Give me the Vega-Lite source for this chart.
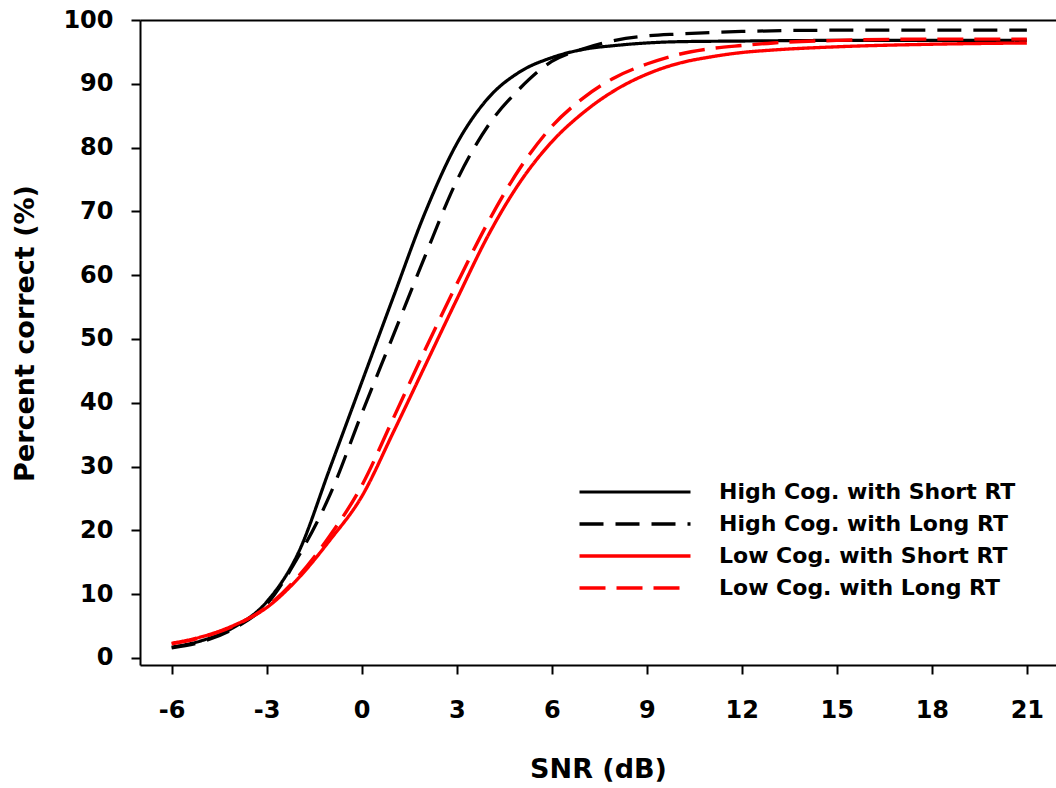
{
  "$schema": "https://vega.github.io/schema/vega-lite/v6.json",
  "width": 916,
  "height": 645,
  "autosize": {"type": "none"},
  "padding": {"left": 140, "top": 20, "right": 0, "bottom": 123},
  "background": "white",
  "config": {
    "view": {"stroke": null},
    "font": "DejaVu Sans",
    "axis": {
      "grid": false,
      "labelFont": "DejaVu Sans",
      "labelFontSize": 24,
      "labelFontWeight": "bold",
      "labelColor": "#000000",
      "tickColor": "#000000",
      "tickWidth": 2,
      "tickSize": 9,
      "domainColor": "#000000",
      "domainWidth": 2,
      "titleFont": "DejaVu Sans",
      "titleFontSize": 27,
      "titleFontWeight": "bold",
      "titleColor": "#000000"
    },
    "legend": {
      "labelFont": "DejaVu Sans",
      "labelFontSize": 22,
      "labelFontWeight": "bold",
      "labelColor": "#000000",
      "labelLimit": 500,
      "padding": 0
    }
  },
  "data": {
    "values": [
      {"group": "High Cog. with Short RT", "snr": -6, "pc": 1.7},
      {"group": "High Cog. with Short RT", "snr": -5, "pc": 2.8},
      {"group": "High Cog. with Short RT", "snr": -4, "pc": 4.9},
      {"group": "High Cog. with Short RT", "snr": -3, "pc": 8.8},
      {"group": "High Cog. with Short RT", "snr": -2, "pc": 16.5},
      {"group": "High Cog. with Short RT", "snr": -1, "pc": 29.8},
      {"group": "High Cog. with Short RT", "snr": 0, "pc": 43.2},
      {"group": "High Cog. with Short RT", "snr": 1, "pc": 56.6},
      {"group": "High Cog. with Short RT", "snr": 2, "pc": 69.8},
      {"group": "High Cog. with Short RT", "snr": 3, "pc": 80.6},
      {"group": "High Cog. with Short RT", "snr": 4, "pc": 87.8},
      {"group": "High Cog. with Short RT", "snr": 5, "pc": 91.9},
      {"group": "High Cog. with Short RT", "snr": 6, "pc": 94.1},
      {"group": "High Cog. with Short RT", "snr": 7, "pc": 95.4},
      {"group": "High Cog. with Short RT", "snr": 8, "pc": 96.0},
      {"group": "High Cog. with Short RT", "snr": 9, "pc": 96.4},
      {"group": "High Cog. with Short RT", "snr": 10, "pc": 96.6},
      {"group": "High Cog. with Short RT", "snr": 12, "pc": 96.7},
      {"group": "High Cog. with Short RT", "snr": 15, "pc": 96.8},
      {"group": "High Cog. with Short RT", "snr": 18, "pc": 96.8},
      {"group": "High Cog. with Short RT", "snr": 21, "pc": 96.8},
      {"group": "High Cog. with Long RT", "snr": -6, "pc": 1.6},
      {"group": "High Cog. with Long RT", "snr": -5, "pc": 2.6},
      {"group": "High Cog. with Long RT", "snr": -4, "pc": 4.7},
      {"group": "High Cog. with Long RT", "snr": -3, "pc": 8.4},
      {"group": "High Cog. with Long RT", "snr": -2, "pc": 15.9},
      {"group": "High Cog. with Long RT", "snr": -1, "pc": 25.6},
      {"group": "High Cog. with Long RT", "snr": 0, "pc": 38.3},
      {"group": "High Cog. with Long RT", "snr": 1, "pc": 50.6},
      {"group": "High Cog. with Long RT", "snr": 2, "pc": 63.0},
      {"group": "High Cog. with Long RT", "snr": 3, "pc": 74.8},
      {"group": "High Cog. with Long RT", "snr": 4, "pc": 83.5},
      {"group": "High Cog. with Long RT", "snr": 5, "pc": 89.3},
      {"group": "High Cog. with Long RT", "snr": 6, "pc": 93.5},
      {"group": "High Cog. with Long RT", "snr": 7, "pc": 95.5},
      {"group": "High Cog. with Long RT", "snr": 8, "pc": 96.8},
      {"group": "High Cog. with Long RT", "snr": 9, "pc": 97.5},
      {"group": "High Cog. with Long RT", "snr": 10, "pc": 97.8},
      {"group": "High Cog. with Long RT", "snr": 12, "pc": 98.2},
      {"group": "High Cog. with Long RT", "snr": 15, "pc": 98.4},
      {"group": "High Cog. with Long RT", "snr": 18, "pc": 98.4},
      {"group": "High Cog. with Long RT", "snr": 21, "pc": 98.4},
      {"group": "Low Cog. with Short RT", "snr": -6, "pc": 2.3},
      {"group": "Low Cog. with Short RT", "snr": -5, "pc": 3.4},
      {"group": "Low Cog. with Short RT", "snr": -4, "pc": 5.2},
      {"group": "Low Cog. with Short RT", "snr": -3, "pc": 7.9},
      {"group": "Low Cog. with Short RT", "snr": -2, "pc": 12.5},
      {"group": "Low Cog. with Short RT", "snr": -1, "pc": 18.5},
      {"group": "Low Cog. with Short RT", "snr": 0, "pc": 25.3},
      {"group": "Low Cog. with Short RT", "snr": 1, "pc": 35.4},
      {"group": "Low Cog. with Short RT", "snr": 2, "pc": 45.8},
      {"group": "Low Cog. with Short RT", "snr": 3, "pc": 56.2},
      {"group": "Low Cog. with Short RT", "snr": 4, "pc": 66.3},
      {"group": "Low Cog. with Short RT", "snr": 5, "pc": 74.6},
      {"group": "Low Cog. with Short RT", "snr": 6, "pc": 80.9},
      {"group": "Low Cog. with Short RT", "snr": 7, "pc": 85.5},
      {"group": "Low Cog. with Short RT", "snr": 8, "pc": 89.0},
      {"group": "Low Cog. with Short RT", "snr": 9, "pc": 91.5},
      {"group": "Low Cog. with Short RT", "snr": 10, "pc": 93.2},
      {"group": "Low Cog. with Short RT", "snr": 11, "pc": 94.2},
      {"group": "Low Cog. with Short RT", "snr": 12, "pc": 94.9},
      {"group": "Low Cog. with Short RT", "snr": 13, "pc": 95.3},
      {"group": "Low Cog. with Short RT", "snr": 15, "pc": 95.8},
      {"group": "Low Cog. with Short RT", "snr": 18, "pc": 96.2},
      {"group": "Low Cog. with Short RT", "snr": 21, "pc": 96.4},
      {"group": "Low Cog. with Long RT", "snr": -6, "pc": 2.2},
      {"group": "Low Cog. with Long RT", "snr": -5, "pc": 3.3},
      {"group": "Low Cog. with Long RT", "snr": -4, "pc": 5.1},
      {"group": "Low Cog. with Long RT", "snr": -3, "pc": 8.0},
      {"group": "Low Cog. with Long RT", "snr": -2, "pc": 12.8},
      {"group": "Low Cog. with Long RT", "snr": -1, "pc": 19.2},
      {"group": "Low Cog. with Long RT", "snr": 0, "pc": 27.0},
      {"group": "Low Cog. with Long RT", "snr": 1, "pc": 37.6},
      {"group": "Low Cog. with Long RT", "snr": 2, "pc": 48.3},
      {"group": "Low Cog. with Long RT", "snr": 3, "pc": 58.6},
      {"group": "Low Cog. with Long RT", "snr": 4, "pc": 68.4},
      {"group": "Low Cog. with Long RT", "snr": 5, "pc": 76.8},
      {"group": "Low Cog. with Long RT", "snr": 6, "pc": 83.3},
      {"group": "Low Cog. with Long RT", "snr": 7, "pc": 87.8},
      {"group": "Low Cog. with Long RT", "snr": 8, "pc": 91.0},
      {"group": "Low Cog. with Long RT", "snr": 9, "pc": 93.1},
      {"group": "Low Cog. with Long RT", "snr": 10, "pc": 94.6},
      {"group": "Low Cog. with Long RT", "snr": 11, "pc": 95.5},
      {"group": "Low Cog. with Long RT", "snr": 12, "pc": 96.0},
      {"group": "Low Cog. with Long RT", "snr": 13, "pc": 96.4},
      {"group": "Low Cog. with Long RT", "snr": 15, "pc": 96.8},
      {"group": "Low Cog. with Long RT", "snr": 18, "pc": 97.0},
      {"group": "Low Cog. with Long RT", "snr": 21, "pc": 97.0}
    ]
  },
  "layer": [
    {
      "mark": {"type": "line", "interpolate": "monotone"},
      "encoding": {
        "x": {
          "field": "snr",
          "type": "quantitative",
          "scale": {"domain": [-7, 21.92], "nice": false, "zero": false},
          "axis": {
            "orient": "bottom",
            "values": [-6, -3, 0, 3, 6, 9, 12, 15, 18, 21],
            "labelExpr": "'' + datum.value",
            "title": "SNR (dB)",
            "labelBaseline": "alphabetic",
            "labelPadding": 43,
            "titleBaseline": "alphabetic",
            "titleY": 112
          }
        },
        "y": {
          "field": "pc",
          "type": "quantitative",
          "scale": {"domain": [-1.1, 100], "nice": false, "zero": false},
          "axis": {
            "values": [0, 10, 20, 30, 40, 50, 60, 70, 80, 90, 100],
            "title": "Percent correct (%)",
            "labelPadding": 18,
            "titleAngle": -90,
            "titleX": -115,
            "titleY": 313,
            "titleAlign": "center",
            "titleBaseline": "middle"
          }
        },
        "color": {
          "field": "group",
          "type": "nominal",
          "scale": {
            "domain": ["High Cog. with Short RT", "High Cog. with Long RT", "Low Cog. with Short RT", "Low Cog. with Long RT"],
            "range": ["#000000", "#000000", "#ff0000", "#ff0000"]
          },
          "legend": {
            "title": null,
            "orient": "none",
            "legendX": 484,
            "legendY": 461,
            "symbolType": "M-11.1,0H11.1",
            "symbolSize": 100,
            "labelOffset": 73,
            "rowPadding": 10
          }
        },
        "strokeDash": {
          "field": "group",
          "type": "nominal",
          "scale": {
            "domain": ["High Cog. with Short RT", "High Cog. with Long RT", "Low Cog. with Short RT", "Low Cog. with Long RT"],
            "range": [[1, 0], [24, 12], [1, 0], [26, 11]]
          },
          "legend": {
            "title": null,
            "orient": "none",
            "legendX": 484,
            "legendY": 461,
            "symbolType": "M-11.1,0H11.1",
            "symbolSize": 100,
            "labelOffset": 73,
            "rowPadding": 10
          }
        },
        "strokeWidth": {
          "field": "group",
          "type": "nominal",
          "scale": {
            "domain": ["High Cog. with Short RT", "High Cog. with Long RT", "Low Cog. with Short RT", "Low Cog. with Long RT"],
            "range": [3.2, 3.4, 1.5, 1.5]
          },
          "legend": {
            "title": null,
            "orient": "none",
            "legendX": 484,
            "legendY": 461,
            "symbolType": "M-11.1,0H11.1",
            "symbolSize": 100,
            "labelOffset": 73,
            "rowPadding": 10
          }
        }
      }
    },
    {
      "mark": {"type": "rule", "opacity": 0},
      "encoding": {
        "x": {
          "field": "snr",
          "type": "quantitative",
          "axis": {"orient": "top", "labels": false, "ticks": false, "title": null, "domain": true}
        }
      }
    }
  ]
}
